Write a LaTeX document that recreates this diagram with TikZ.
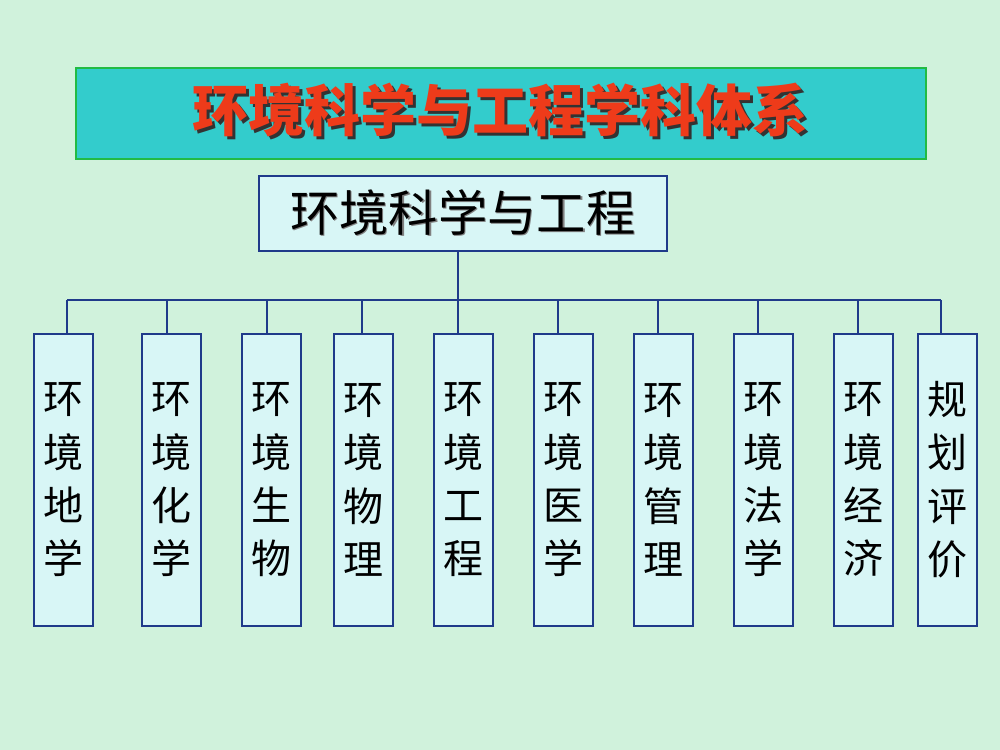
\documentclass[tikz,border=0pt]{standalone}
\usepackage{fontspec}
\newfontfamily\cjk{Noto Sans CJK SC}
\newfontfamily\cjkb{Noto Sans CJK SC Black}
\definecolor{bg}{HTML}{D0F2DC}
\definecolor{titlefill}{HTML}{33CCCC}
\definecolor{titleborder}{HTML}{22BB44}
\definecolor{boxfill}{HTML}{D8F6F6}
\definecolor{navy}{HTML}{1F3A8A}
\definecolor{titlered}{HTML}{EE3B1A}
\newcommand{\shadowtext}[4]{\makebox[0pt][l]{\hspace*{#1}\raisebox{-#1}{\color{#2}#4}}{\color{#3}#4}}
\tikzset{
  subj/.style={draw=navy, line width=1.2pt, fill=boxfill, minimum width=59*0.75pt, minimum height=292*0.75pt, inner sep=0pt, anchor=north west, align=center, font=\cjk\fontsize{30}{40}\selectfont},
  conn/.style={draw=navy, line width=1.2pt},
}
\begin{document}
\begin{tikzpicture}[x=0.75pt,y=-0.75pt]
\fill[bg] (0,0) rectangle (1000,750);
\useasboundingbox (0,0) rectangle (1000,750);
% title
\node[draw=titleborder, line width=1.2pt, fill=titlefill, minimum width=850*0.75pt, minimum height=91*0.75pt, anchor=north west, inner sep=0pt] (title) at (75,67) {};
\node[font=\cjkb\fontsize{42}{42}\selectfont, yshift=1pt] (titletext) at (title.center) {\shadowtext{2.2pt}{black!80}{titlered}{环境科学与工程学科体系}};
% main box
\node[draw=navy, line width=1.2pt, fill=boxfill, minimum width=408*0.75pt, minimum height=75*0.75pt, anchor=north west, inner sep=0pt] (main) at (258,175) {};
\node[font=\cjk\fontsize{37}{37}\selectfont] (maintext) at (main.center) {\shadowtext{1pt}{black!50}{black}{环境科学与工程}};
% subject boxes
\node[subj] (b1) at (33,333) {环\\境\\地\\学};
\node[subj] (b2) at (141,333) {环\\境\\化\\学};
\node[subj] (b3) at (241,333) {环\\境\\生\\物};
\node[subj] (b4) at (333,333) {环\\境\\物\\理};
\node[subj] (b5) at (433,333) {环\\境\\工\\程};
\node[subj] (b6) at (533,333) {环\\境\\医\\学};
\node[subj] (b7) at (633,333) {环\\境\\管\\理};
\node[subj] (b8) at (733,333) {环\\境\\法\\学};
\node[subj] (b9) at (833,333) {环\\境\\经\\济};
\node[subj] (b10) at (917,333) {规\\划\\评\\价};
% connectors
\coordinate (bus) at (458,300);
\coordinate (busL) at (67,300);
\coordinate (busR) at (941,300);
\draw[conn] (main.south -| bus) -- (bus);
\draw[conn] (busL) -- (busR);
\foreach \b/\x in {b1/67,b2/167,b3/267,b4/362,b5/458,b6/558,b7/658,b8/758,b9/858,b10/941}{
  \coordinate (d\b) at (\x,300);
  \draw[conn] (d\b) -- (d\b |- \b.north);
}
\end{tikzpicture}
\end{document}
